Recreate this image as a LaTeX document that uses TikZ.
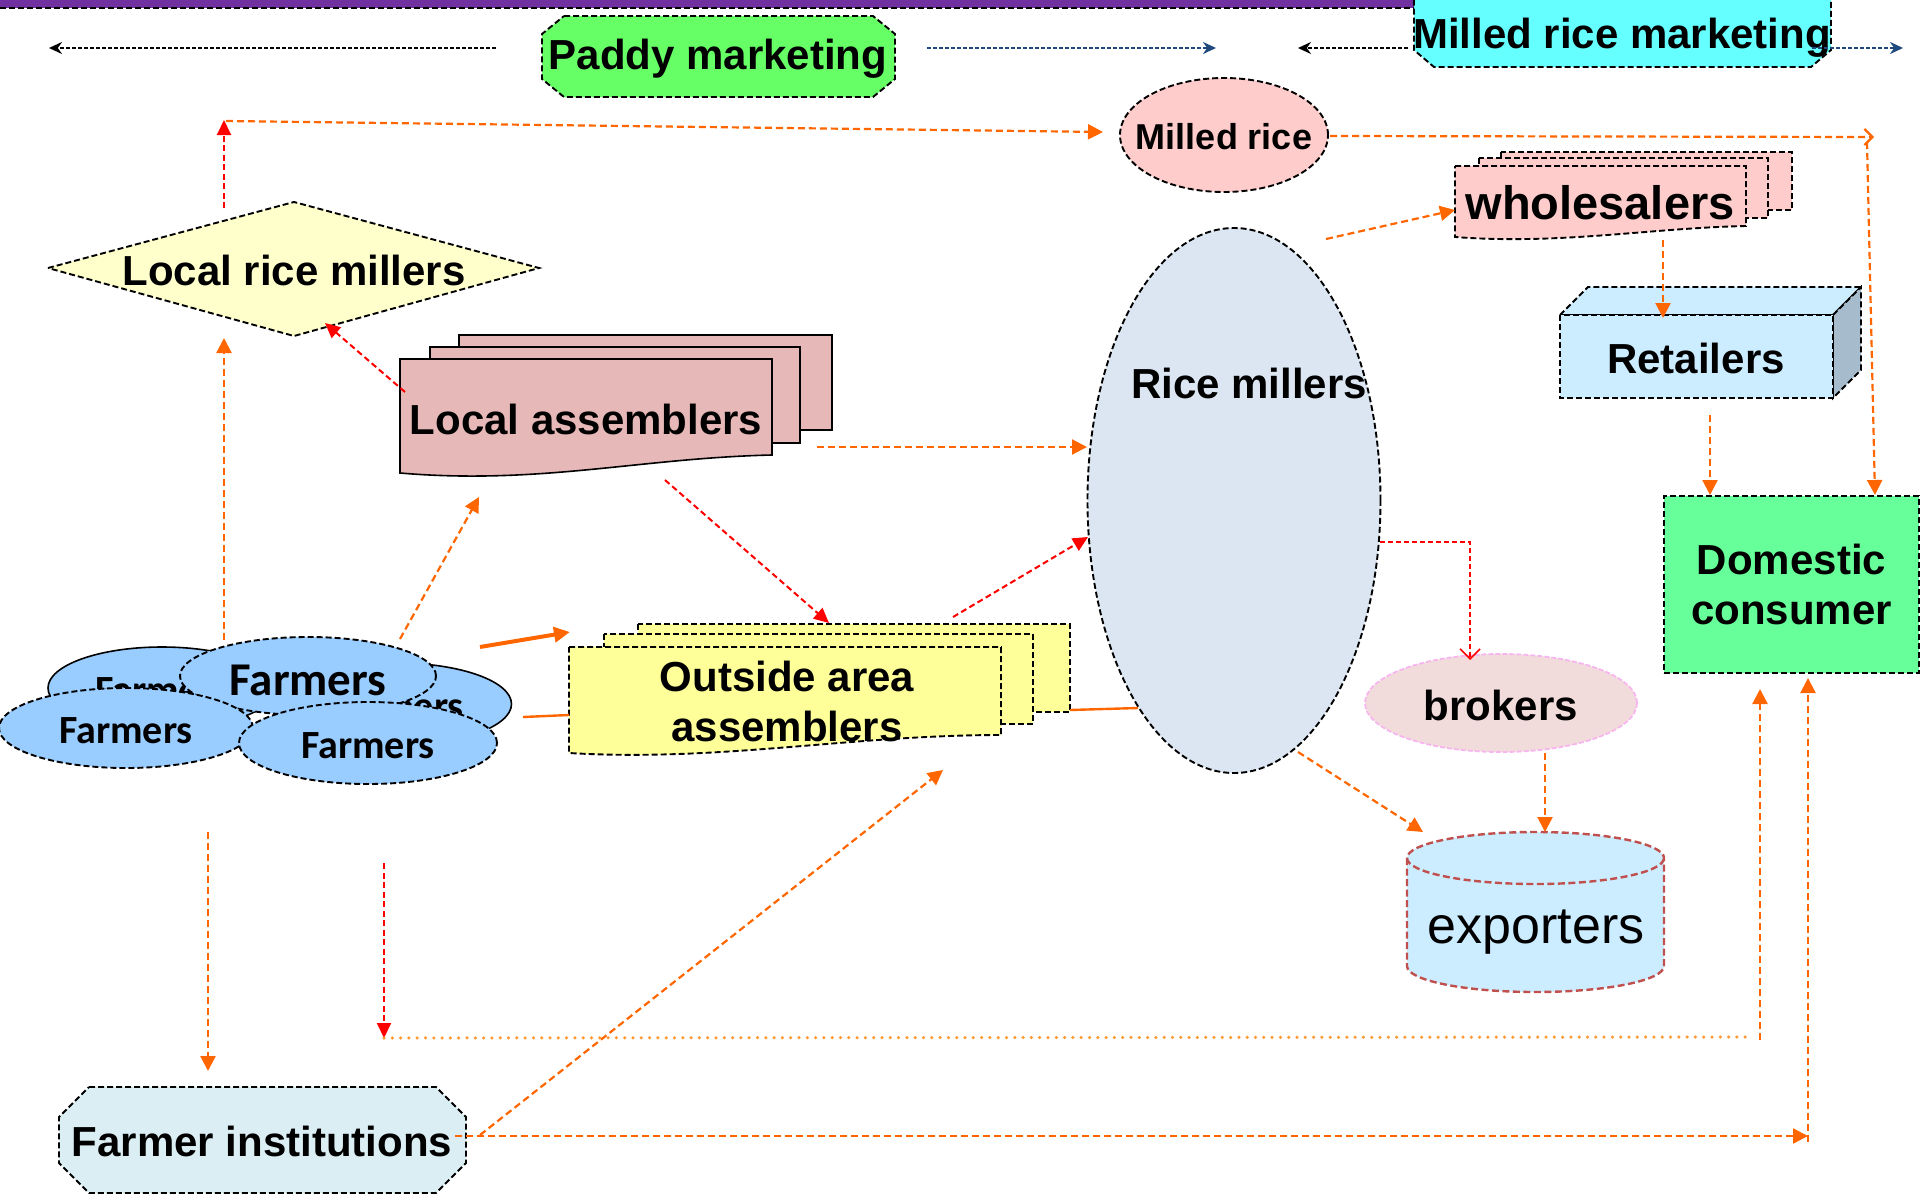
\documentclass[tikz,border=0pt]{standalone}
\usepackage{fontspec}
\setmainfont{Liberation Sans}
\newfontfamily\carlito{Carlito}
\usetikzlibrary{arrows.meta,shapes.geometric}
\definecolor{orng}{HTML}{FF6600}
\definecolor{lorng}{HTML}{FF9933}
\definecolor{dblue}{HTML}{1F497D}
\definecolor{purp}{HTML}{7030A0}
\definecolor{pgreen}{HTML}{66FF66}
\definecolor{pcyan}{HTML}{66FFFF}
\definecolor{mrpink}{HTML}{FFCCCC}
\definecolor{lrmyel}{HTML}{FFFFCC}
\definecolor{lapink}{HTML}{E6B8B7}
\definecolor{oayel}{HTML}{FFFF99}
\definecolor{farmblue}{HTML}{99CCFF}
\definecolor{fiblue}{HTML}{DAEEF3}
\definecolor{rmblue}{HTML}{DCE6F2}
\definecolor{brpink}{HTML}{F2DCDB}
\definecolor{brline}{HTML}{F7B5F0}
\definecolor{expblue}{HTML}{CCECFF}
\definecolor{expline}{HTML}{C0504D}
\definecolor{retblue}{HTML}{CCECFF}
\definecolor{retside}{HTML}{A6BCCC}
\definecolor{dcgreen}{HTML}{66FF99}
\begin{document}
\begin{tikzpicture}[x=1pt,y=-1pt,
  shp/.style={draw=black,line width=1.9pt,dash pattern=on 6pt off 3pt},
  solidshp/.style={draw=black,line width=1.6pt},
  expshp/.style={draw=expline,line width=2.4pt,dash pattern=on 7pt off 3.5pt},
  big/.style={font=\fontsize{42}{50}\selectfont\bfseries, inner sep=0pt, align=center},
  oline/.style={draw=orng,line width=2.2pt,dash pattern=on 7pt off 4pt},
  oarr/.style={oline,-{Triangle[length=15pt,width=15pt]}},
  rarr/.style={draw=red,line width=2pt,dash pattern=on 6pt off 3.5pt,-{Triangle[length=15pt,width=14pt]}},
  karr/.style={draw=black,line width=2.2pt,dash pattern=on 4pt off 2pt,-{Stealth[length=13pt,width=12pt]}},
  barr/.style={draw=dblue,line width=2.2pt,dash pattern=on 4pt off 2pt,-{Stealth[length=13pt,width=12pt]}},
  dotl/.style={draw=lorng,line width=3.5pt,line cap=round,dash pattern=on 0pt off 8.3pt},
  farmtxt/.style={font={\carlito\fontsize{40}{44}\selectfont\bfseries}},
  farm/.style={ellipse,fill=farmblue,inner sep=0pt},
]
\useasboundingbox (0,0) rectangle (1920,1194);

% purple bar
\fill[purp] (-5,-5) rectangle (1420,8);
\draw[shp] (0,8) -- (1420,8);

% Paddy marketing
\draw[shp,fill=pgreen] (564,16) -- (873,16) -- (895,34) -- (895,79) -- (873,97) -- (564,97) -- (542,79) -- (542,34) -- cycle;
\node[big] (pm) at (718,59) {Paddy marketing};

% Milled rice marketing
\draw[shp,fill=pcyan] (1434,-17) -- (1811,-17) -- (1831,0) -- (1831,50) -- (1811,67) -- (1434,67) -- (1414,50) -- (1414,0) -- cycle;
\node[big] (mrm) at (1622,38) {Milled rice marketing};

% top arrows
\coordinate (k1s) at (496,48); \coordinate (k1e) at (49,48);
\coordinate (b1s) at (927,48); \coordinate (b1e) at (1216,48);
\coordinate (k2s) at (1408,48); \coordinate (k2e) at (1298,48);
\coordinate (b2s) at (1812,48); \coordinate (b2e) at (1903,48);
\draw[karr] (k1s) -- (k1e);
\draw[barr] (b1s) -- (b1e);
\draw[karr] (k2s) -- (k2e);
\draw[barr] (b2s) -- (b2e);

% Milled rice
\node[ellipse,shp,fill=mrpink,minimum width=208pt,minimum height=114pt,inner sep=0pt] (mr) at (1224,135) {};
\node[font=\fontsize{36}{40}\selectfont\bfseries,inner sep=0pt] (mrt) at (1224,137) {Milled rice};

% Local rice millers
\draw[shp,fill=lrmyel] (48,268) -- (294,202) -- (539,268) -- (294,336) -- cycle;
\node[big] (lrm) at (294,270) {Local rice millers};

% Local assemblers
\draw[solidshp,fill=lapink] (459,335) rectangle (832,430);
\draw[solidshp,fill=lapink] (430,347) rectangle (800,443);
\draw[solidshp,fill=lapink] (400,359) -- (772,359) -- (772,455) .. controls (640,458) and (540,485) .. (400,473) -- cycle;
\node[big] (la) at (586,419) {Local assemblers};

% Outside area assemblers
\draw[shp,fill=oayel] (638,624) rectangle (1070,712);
\draw[shp,fill=oayel] (604,634) rectangle (1033,724);
\draw[shp,fill=oayel] (569,647) -- (1001,647) -- (1001,735) .. controls (850,735) and (720,762) .. (569,753) -- cycle;
\node[big] (oa) at (787,701) {Outside area\\assemblers};

% Rice millers
\node[ellipse,shp,fill=rmblue,minimum width=293pt,minimum height=545pt,inner sep=0pt] (rm) at (1234,500.5) {};
\node[big] (rmt) at (1249,383) {Rice millers};

% wholesalers
\draw[shp,fill=mrpink] (1501,152) rectangle (1792,210);
\draw[shp,fill=mrpink] (1479,158) rectangle (1768,218);
\draw[shp,fill=mrpink] (1455,166) -- (1746,166) -- (1746,226) .. controls (1650,228) and (1560,245) .. (1455,237) -- cycle;
\node[font=\fontsize{47}{50}\selectfont\bfseries,inner sep=0pt] (wh) at (1600,203) {wholesalers};

% Retailers
\draw[shp,fill=retblue] (1560,315) -- (1588,287) -- (1861,287) -- (1833,315) -- cycle;
\draw[shp,fill=retside] (1833,315) -- (1861,287) -- (1861,370) -- (1833,398) -- cycle;
\draw[shp,fill=retblue] (1560,315) rectangle (1833,398);
\node[big] (ret) at (1696,358) {Retailers};

% Domestic consumer
\node[shp,fill=dcgreen,minimum width=255pt,minimum height=177pt,inner sep=0pt,big] (dc) at (1791.5,584.5) {Domestic\\consumer};

% brokers
\node[ellipse,draw=brline,line width=1.8pt,dash pattern=on 5pt off 2pt,fill=brpink,minimum width=272pt,minimum height=98pt,inner sep=0pt] (br) at (1501,703) {};
\node[font=\fontsize{42}{46}\selectfont\bfseries,inner sep=0pt] (brt) at (1501,705) {brokers};

% exporters
\draw[expshp,fill=expblue] (1407,858) -- (1407,966) arc[start angle=180,end angle=360,x radius=128.5pt,y radius=26pt] -- (1664,858) arc[start angle=0,end angle=180,x radius=128.5pt,y radius=26pt] -- cycle;
\draw[expshp] (1407,858) arc[start angle=180,end angle=360,x radius=128.5pt,y radius=26pt];
\node[font=\fontsize{52}{56}\selectfont,inner sep=0pt] (exp) at (1536,932) {exporters};

% Farmers cluster
\node[farm,solidshp,minimum width=228pt,minimum height=82pt] (f1) at (162,688) {};
\node[farmtxt,inner sep=0pt] (f1t) at (162,691) {Farmers};
\node[farm,solidshp,minimum width=229pt,minimum height=82pt] (f2) at (397,704) {};
\node[farmtxt,inner sep=0pt] (f2t) at (397,707) {Farmers};
\node[farm,shp,minimum width=256pt,minimum height=78pt] (f3) at (308,676) {};
\node[font={\carlito\fontsize{47}{50}\selectfont\bfseries},inner sep=0pt] (f3t) at (308,680) {Farmers};
\node[farm,shp,minimum width=254pt,minimum height=80pt] (f4) at (126,728) {};
\node[farmtxt,inner sep=0pt] (f4t) at (126,731) {Farmers};
\node[farm,shp,minimum width=258pt,minimum height=82pt] (f5) at (368,743) {};
\node[farmtxt,inner sep=0pt] (f5t) at (368,746) {Farmers};

% Farmer institutions
\draw[shp,fill=fiblue] (89,1087) -- (436,1087) -- (466,1117) -- (466,1163) -- (436,1193) -- (89,1193) -- (59,1163) -- (59,1117) -- cycle;
\node[big] (fi) at (262,1141) {Farmer institutions};

% connector coordinates
\coordinate (lrmTop) at (224,208); \coordinate (cornerTL) at (224,120);
\coordinate (toplineS) at (226,121); \coordinate (mrW) at (1103,132);
\coordinate (mrE) at (1330,136); \coordinate (trc) at (1874,137);
\coordinate (trcD) at (1867,142); \coordinate (dcTR) at (1875,495);
\coordinate (farmUp) at (224,640); \coordinate (lrmBot) at (224,338);
\coordinate (laTL) at (405,392); \coordinate (lrmBR) at (325,323);
\coordinate (laE) at (817,447); \coordinate (rmW) at (1087,447);
\coordinate (laB) at (665,480); \coordinate (oaT) at (829,623);
\coordinate (farmNE) at (400,639); \coordinate (laBL) at (479,497);
\coordinate (farmE1) at (480,647); \coordinate (oaW1) at (570,632);
\coordinate (farmE2) at (523,717); \coordinate (oaW2) at (569,715);
\coordinate (farmS1) at (208,832); \coordinate (fiT) at (208,1071);
\coordinate (farmS2) at (384,863); \coordinate (dotS) at (384,1038);
\coordinate (dotE) at (1752,1037); \coordinate (dcUpS) at (1760,1040); \coordinate (dcB1) at (1760,689);
\coordinate (fiE) at (455,1136); \coordinate (brc) at (1808,1136); \coordinate (brcU) at (1808,1142); \coordinate (dcB2) at (1808,678);
\coordinate (fiNE) at (480,1135); \coordinate (oaB) at (943,770);
\coordinate (oaE) at (1070,710); \coordinate (rmSW) at (1138,708);
\coordinate (oaTR) at (953,617); \coordinate (rmW2) at (1088,537);
\coordinate (rmE) at (1380,542); \coordinate (brT) at (1470,660);
\coordinate (rmSE) at (1298,752); \coordinate (expNW) at (1423,832);
\coordinate (brB) at (1545,753); \coordinate (expT) at (1545,832);
\coordinate (rmNE) at (1326,239); \coordinate (whW) at (1455,210);
\coordinate (whB) at (1663,240); \coordinate (retT) at (1663,318);
\coordinate (retB) at (1710,415); \coordinate (dcT) at (1710,495);

% connectors
\draw[rarr] (lrmTop) -- (cornerTL);
\draw[oarr] (toplineS) -- (mrW);
\draw[oline,-{Straight Barb[length=8pt,width=16pt]}] (mrE) -- (trc);
\draw[oarr] (trcD) -- (dcTR);
\draw[oarr] (farmUp) -- (lrmBot);
\draw[rarr] (laTL) -- (lrmBR);
\draw[oarr] (laE) -- (rmW);
\draw[rarr] (laB) -- (oaT);
\draw[oarr] (farmNE) -- (laBL);
\draw[draw=orng,line width=4pt,-{Triangle[length=16pt,width=15pt]}] (farmE1) -- (oaW1);
\draw[draw=orng,line width=2.4pt] (farmE2) -- (oaW2);
\draw[oarr] (farmS1) -- (fiT);
\draw[rarr] (farmS2) -- (dotS);
\draw[dotl] (dotS) -- (dotE);
\draw[oarr] (dcUpS) -- (dcB1);
\draw[oarr] (fiE) -- (brc);
\draw[oarr] (brcU) -- (dcB2);
\draw[oarr] (fiNE) -- (oaB);
\draw[draw=orng,line width=2.4pt] (oaE) -- (rmSW);
\draw[rarr] (oaTR) -- (rmW2);
\draw[draw=red,line width=1.6pt,dash pattern=on 5pt off 3pt,-{Straight Barb[length=10pt,width=20pt]}] (rmE) -| (brT);
\draw[oarr] (rmSE) -- (expNW);
\draw[oarr] (brB) -- (expT);
\draw[oarr] (rmNE) -- (whW);
\draw[oarr] (whB) -- (retT);
\draw[oarr] (retB) -- (dcT);
\end{tikzpicture}
\end{document}
